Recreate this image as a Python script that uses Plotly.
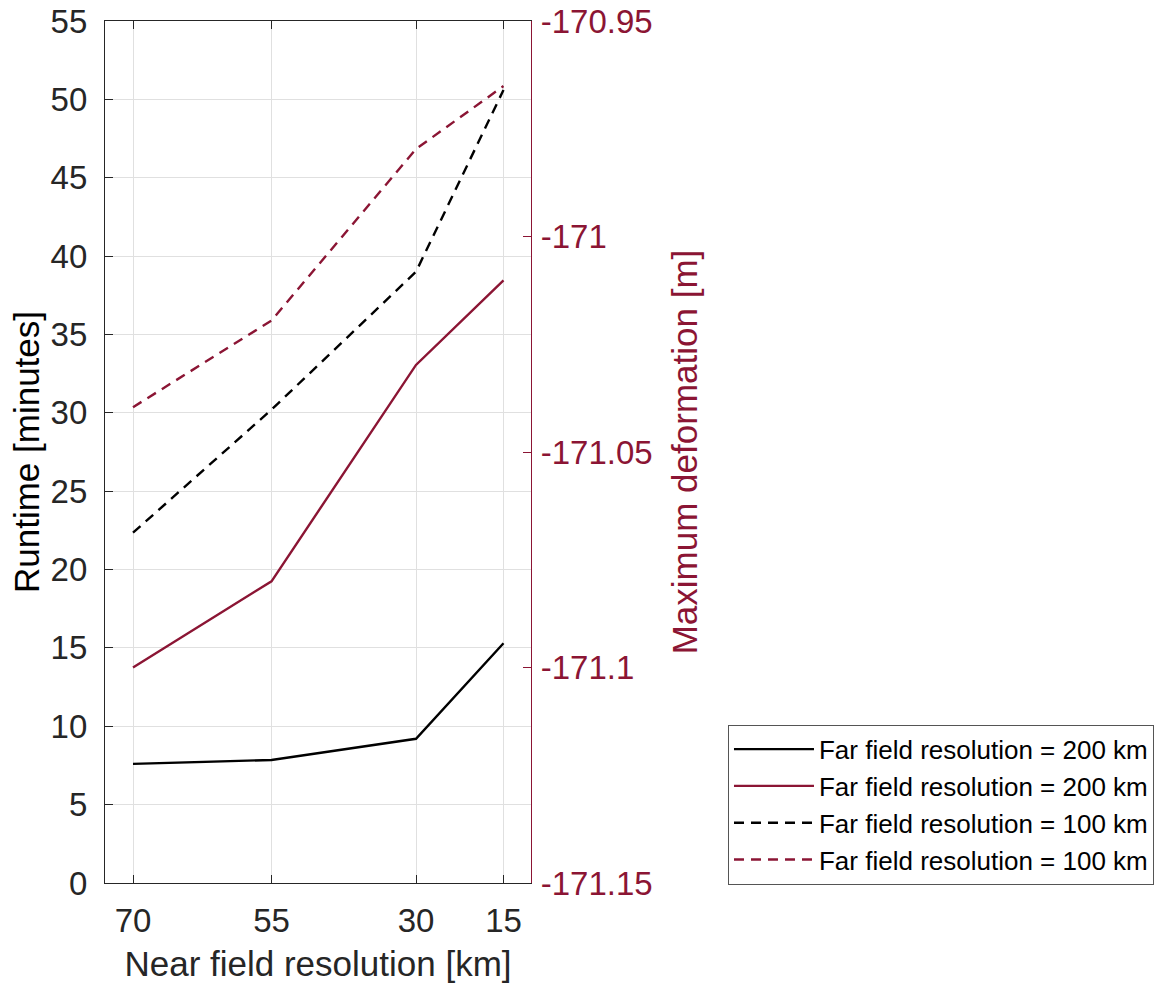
import plotly.graph_objects as go

# ---- data ----
near_field_km = ["70", "55", "30", "15"]          # tick labels
x_position = [28, 166.5, 311, 398.5]               # axis coordinate of each resolution
runtime_200 = [7.6, 7.85, 9.2, 15.3]               # minutes, far field 200 km
runtime_100 = [22.35, 30.2, 39.0, 50.6]            # minutes, far field 100 km
deform_200 = [-171.1, -171.08, -171.0298, -171.0102]   # m, far field 200 km
deform_100 = [-171.0396, -171.0195, -170.9797, -170.9651]  # m, far field 100 km
labels = ["Far field resolution = 200 km", "Far field resolution = 200 km",
          "Far field resolution = 100 km", "Far field resolution = 100 km"]
right_ticks = [-171.15, -171.1, -171.05, -171.0, -170.95]
right_ticktext = ["-171.15", "-171.1", "-171.05", "-171", "-170.95"]

RED = "rgb(139,21,52)"
BLACK = "#000000"
AX = "#262626"
FONT = "Liberation Sans, Arial, sans-serif"

fig = go.Figure()
fig.add_trace(go.Scatter(x=x_position, y=runtime_200, mode="lines", name=labels[0],
                         line=dict(color=BLACK, width=2.4), yaxis="y"))
fig.add_trace(go.Scatter(x=x_position, y=deform_200, mode="lines", name=labels[1],
                         line=dict(color=RED, width=2.4), yaxis="y2"))
fig.add_trace(go.Scatter(x=x_position, y=runtime_100, mode="lines", name=labels[2],
                         line=dict(color=BLACK, width=2.4, dash="10px,7px"), yaxis="y"))
fig.add_trace(go.Scatter(x=x_position, y=deform_100, mode="lines", name=labels[3],
                         line=dict(color=RED, width=2.4, dash="10px,7px"), yaxis="y2"))

fig.update_layout(
    width=1163, height=983,
    margin=dict(l=105, r=632, t=21, b=100, autoexpand=False),
    paper_bgcolor="white", plot_bgcolor="white",
    font=dict(family=FONT, size=33, color=AX),
    showlegend=True,
    legend=dict(x=1.4624, y=-0.002, xanchor="left", yanchor="bottom",
                bordercolor="#555555", borderwidth=1, bgcolor="white",
                font=dict(family=FONT, size=26, color="#000000"),
                tracegroupgap=0, itemwidth=80),
    xaxis=dict(range=[0, 426], tickmode="array", tickvals=x_position, ticktext=near_field_km,
               ticks="inside", ticklen=8, tickcolor=AX, tickwidth=1,
               showline=True, linecolor=AX, linewidth=1.3, mirror="ticks",
               showgrid=True, gridcolor="#e0e0e0", gridwidth=1, zeroline=False,
               tickfont=dict(size=33, color=AX), ticklabelstandoff=8, ticklabeloverflow="allow",
               title=dict(text="Near field resolution [km]", font=dict(size=35, color=AX), standoff=13)),
    yaxis=dict(range=[0, 55], dtick=5, tick0=0,
               ticks="inside", ticklen=8, tickcolor=AX, tickwidth=1,
               showline=True, linecolor=AX, linewidth=1.3, mirror=False,
               showgrid=True, gridcolor="#e0e0e0", gridwidth=1, zeroline=False,
               tickfont=dict(size=33, color=AX), ticklabelstandoff=10, ticklabeloverflow="allow",
               title=dict(text="Runtime [minutes]", font=dict(size=35, color="#000000"), standoff=0)),
    yaxis2=dict(range=[-171.15, -170.95], overlaying="y", side="right", anchor="x",
                tickmode="array", tickvals=right_ticks, ticktext=right_ticktext,
                ticks="inside", ticklen=8, tickcolor=RED, tickwidth=1,
                showline=True, linecolor=RED, linewidth=1.3,
                showgrid=False, zeroline=False,
                tickfont=dict(size=33, color=RED), ticklabelstandoff=2, ticklabeloverflow="allow",
                title=dict(text="Maximum deformation [m]", font=dict(size=35, color=RED), standoff=20)),
)

# remove the default 8 px page margin so the figure fills the window exactly
fig.write_html("out.html", config={"displayModeBar": False},
               post_script="document.body.style.margin='0px';")
